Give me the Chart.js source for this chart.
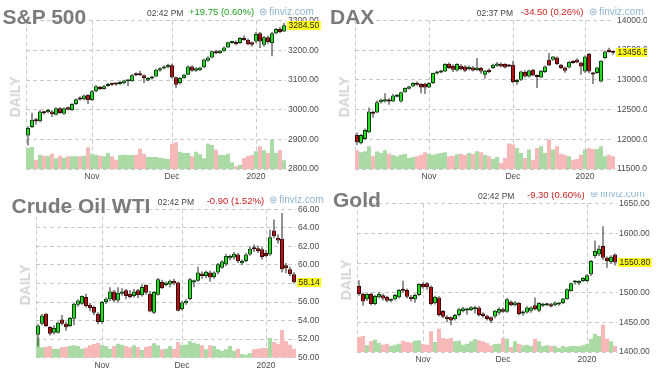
<!DOCTYPE html>
<html><head><meta charset="utf-8">
<script src="https://cdn.jsdelivr.net/npm/chart.js@4.4.1/dist/chart.umd.min.js"></script>
<style>
html,body{margin:0;padding:0;background:#fff;}
#root{position:relative;width:660px;height:384px;overflow:hidden;font-family:"Liberation Sans",Arial,sans-serif;}
.panel{position:absolute;width:330px;height:192px;overflow:hidden;}
.panel canvas{position:absolute;left:0;top:0;}
.t{position:absolute;white-space:nowrap;}
.title{font-weight:bold;font-size:21px;line-height:21px;color:#7b7b7b;}
.time{font-size:8.5px;line-height:8.5px;color:#444;}
.chg{font-size:9.5px;line-height:9.5px;}
.up{color:#22a022;}
.dn{color:#cc2222;}
.fv{font-size:10px;line-height:10px;color:#8db4d2;}
.daily{font-weight:bold;font-size:14px;line-height:14px;color:#d4d4d4;transform:translate(-50%,-50%) rotate(-90deg);}
</style></head><body><div id="root">
<div class="panel" id="p1" style="left:0;top:0;">
  <canvas id="c1" width="330" height="192"></canvas>
  <div class="t title" style="left:2.5px;top:5.5px;">S&amp;P 500</div>
  <div class="t time" style="left:147px;top:8.8px;">02:42 PM</div>
  <div class="t chg up" style="left:189px;top:7px;">+19.75 (0.60%)</div>
  <div class="t fv" style="left:259px;top:6.5px;">⊜</div>
  <div class="t fv" style="left:269.3px;top:6.5px;">finviz.com</div>
  <div class="t daily" style="left:15px;top:97px;">DAILY</div>
</div>
<div class="panel" id="p2" style="left:330px;top:0;">
  <canvas id="c2" width="317" height="192"></canvas>
  <div class="t title" style="left:0px;top:5.5px;">DAX</div>
  <div class="t time" style="left:146.7px;top:8.8px;">02:37 PM</div>
  <div class="t chg dn" style="left:190.7px;top:7px;">-34.50 (0.26%)</div>
  <div class="t fv" style="left:259px;top:6.5px;">⊜</div>
  <div class="t fv" style="left:269.3px;top:6.5px;">finviz.com</div>
  <div class="t daily" style="left:13.5px;top:97px;">DAILY</div>
</div>
<div class="panel" id="p3" style="left:0;top:192px;">
  <canvas id="c3" width="330" height="192"></canvas>
  <div class="t title" style="left:11.5px;top:2.9px;">Crude Oil WTI</div>
  <div class="t time" style="left:157.7px;top:6.1px;">02:42 PM</div>
  <div class="t chg dn" style="left:206.7px;top:3.5px;">-0.90 (1.52%)</div>
  <div class="t fv" style="left:269px;top:2.5px;">⊜</div>
  <div class="t fv" style="left:279.3px;top:2.5px;">finviz.com</div>
  <div class="t daily" style="left:25px;top:93.4px;">DAILY</div>
</div>
<div class="panel" id="p4" style="left:330px;top:192px;">
  <canvas id="c4" width="330" height="192"></canvas>
  <div class="t title" style="left:3px;top:-2.8px;">Gold</div>
  <div class="t time" style="left:148px;top:-0.5px;">02:42 PM</div>
  <div class="t chg dn" style="left:197px;top:-2.5px;">-9.30 (0.60%)</div>
  <div class="t fv" style="left:260px;top:-3.5px;">⊜</div>
  <div class="t fv" style="left:270.3px;top:-3.5px;">finviz.com</div>
  <div class="t daily" style="left:16px;top:88.3px;">DAILY</div>
</div>
</div>
<script>
// ---------- categories (trading days) ----------
const usDates = [
 "2019-10-10","2019-10-11","2019-10-14","2019-10-15","2019-10-16","2019-10-17","2019-10-18","2019-10-21","2019-10-22","2019-10-23","2019-10-24","2019-10-25","2019-10-28","2019-10-29","2019-10-30","2019-10-31",
 "2019-11-01","2019-11-04","2019-11-05","2019-11-06","2019-11-07","2019-11-08","2019-11-11","2019-11-12","2019-11-13","2019-11-14","2019-11-15","2019-11-18","2019-11-19","2019-11-20","2019-11-21","2019-11-22","2019-11-25","2019-11-26","2019-11-27","2019-11-29",
 "2019-12-02","2019-12-03","2019-12-04","2019-12-05","2019-12-06","2019-12-09","2019-12-10","2019-12-11","2019-12-12","2019-12-13","2019-12-16","2019-12-17","2019-12-18","2019-12-19","2019-12-20","2019-12-23","2019-12-24","2019-12-26","2019-12-27","2019-12-30","2019-12-31",
 "2020-01-02","2020-01-03","2020-01-06","2020-01-07","2020-01-08","2020-01-09","2020-01-10","2020-01-13"
];
const daxDates = [
 "2019-10-08","2019-10-09","2019-10-10","2019-10-11","2019-10-14","2019-10-15","2019-10-16","2019-10-17","2019-10-18","2019-10-21","2019-10-22","2019-10-23","2019-10-24","2019-10-25","2019-10-28","2019-10-29","2019-10-30","2019-10-31",
 "2019-11-01","2019-11-04","2019-11-05","2019-11-06","2019-11-07","2019-11-08","2019-11-11","2019-11-12","2019-11-13","2019-11-14","2019-11-15","2019-11-18","2019-11-19","2019-11-20","2019-11-21","2019-11-22","2019-11-25","2019-11-26","2019-11-27","2019-11-28","2019-11-29",
 "2019-12-02","2019-12-03","2019-12-04","2019-12-05","2019-12-06","2019-12-09","2019-12-10","2019-12-11","2019-12-12","2019-12-13","2019-12-16","2019-12-17","2019-12-18","2019-12-19","2019-12-20","2019-12-23","2019-12-27","2019-12-30",
 "2020-01-02","2020-01-03","2020-01-06","2020-01-07","2020-01-08","2020-01-09","2020-01-10","2020-01-13"
];
// ---------- x tick labels ----------
const monthKeys  = ["2019-11","2019-12","2020-01"];
const monthNames = ["Nov","Dec","2020"];

// ---------- S&P 500  [open, high, low, close] ----------
const spxOHLC = [
 [2913,2944,2879,2938],[2942,2990,2938,2966],[2966,2972,2950,2961],[2961,2999,2958,2994],[2992,2996,2984,2988],
 [2991,3002,2988,2999],[2994,2998,2975,2985],[2983,3008,2980,3005],[3005,3009,2986,2989],[2986,3007,2983,3005],
 [3008,3011,2998,3000],[2999,3022,2996,3019],[3019,3038,3016,3035],[3039,3045,3031,3034],[3035,3051,3032,3048],
 [3050,3053,3019,3032],[3033,3066,3030,3062],[3062,3082,3059,3079],[3075,3080,3066,3070],[3070,3084,3068,3079],
 [3080,3090,3077,3087],[3088,3091,3080,3084],[3089,3092,3081,3085],[3087,3096,3084,3093],[3089,3101,3086,3098],
 [3096,3100,3080,3099],[3096,3120,3094,3116],[3120,3125,3113,3116],[3120,3131,3114,3116],[3116,3119,3090,3107],
 [3098,3110,3096,3107],[3105,3114,3102,3111],[3112,3138,3110,3135],[3132,3143,3128,3140],[3139,3150,3136,3146],
 [3143,3155,3140,3151],[3150,3155,3105,3109],[3109,3112,3073,3084],[3090,3110,3085,3107],[3107,3121,3104,3118],
 [3118,3149,3116,3146],[3146,3150,3128,3131],[3131,3143,3127,3140],[3133,3145,3130,3142],[3143,3172,3140,3169],
 [3165,3179,3162,3176],[3176,3199,3173,3197],[3197,3201,3187,3190],[3190,3202,3188,3199],[3197,3213,3195,3210],
 [3210,3229,3208,3227],[3225,3232,3222,3230],[3228,3233,3217,3221],[3225,3245,3222,3242],[3242,3250,3232,3235],
 [3236,3240,3217,3221],[3227,3230,3212,3219],[3230,3262,3225,3255],[3258,3262,3208,3230],[3219,3248,3212,3244],
 [3244,3250,3222,3228],[3225,3262,3180,3258],[3258,3275,3254,3272],[3272,3279,3258,3262],[3264,3292,3262,3284.5]
];
const spxVolume = [63,66,28,43,40,40,46,32,40,34,38,38,38,38,40,65,46,43,40,38,48,38,28,42,43,41,42,43,61,46,36,36,36,34,32,30,76,80,52,48,48,38,52,44,32,76,72,58,42,42,46,20,8,13,33,40,42,53,68,56,48,88,48,56,26];
const spxTicks = [2800,3300,100];

// ---------- DAX ----------
const daxOHLC = [
 [12073,12110,11904,11949],[11933,12090,11915,12073],[12006,12180,11990,12157],[12118,12534,12100,12466],[12449,12480,12360,12427],
 [12449,12650,12440,12624],[12624,12680,12600,12663],[12635,12775,12620,12674],[12663,12690,12580,12635],[12635,12760,12625,12736],
 [12714,12760,12700,12747],[12635,12800,12620,12792],[12792,12870,12780,12860],[12848,12900,12835,12888],[12888,12960,12880,12944],
 [12944,12970,12900,12916],[12927,12940,12775,12871],[12933,12950,12760,12871],[12871,12960,12860,12944],[12944,13120,12930,13112],
 [13107,13150,13090,13140],[13124,13170,13110,13157],[13140,13280,13130,13264],[13270,13290,13180,13197],[13236,13260,13130,13169],
 [13157,13280,13140,13264],[13236,13260,13160,13180],[13225,13245,13130,13152],[13180,13240,13160,13219],[13208,13230,13140,13157],
 [13163,13365,13150,13208],[13197,13215,13100,13140],[13084,13170,13020,13152],[13169,13190,13110,13129],[13197,13270,13180,13253],
 [13236,13300,13220,13275],[13270,13290,13210,13225],[13264,13280,13190,13208],[13253,13265,13210,13225],[13253,13320,12940,12961],
 [12961,13010,12916,12989],[13000,13150,12980,13140],[13129,13160,13040,13056],[13056,13170,13040,13157],[13169,13180,13060,13073],
 [13073,13090,12860,13045],[13040,13165,13030,13152],[13129,13240,13115,13225],[13337,13450,13230,13242],[13337,13400,13320,13393],
 [13376,13390,13250,13264],[13253,13265,13180,13197],[13208,13220,13120,13152],[13208,13310,13195,13298],[13309,13330,13270,13281],
 [13337,13360,13280,13292],[13292,13300,13085,13225],[13140,13410,13120,13393],[13432,13450,13110,13140],[13112,13130,12930,13090],
 [13112,13220,13100,13208],[12972,13330,12960,13320],[13365,13490,13355,13477],[13505,13540,13455,13466],[13477,13490,13420,13456.5]
];
const daxVolume = [56,50,53,68,38,52,48,56,46,42,38,43,46,33,36,38,43,50,46,43,46,48,50,38,40,44,46,42,48,46,53,50,43,38,30,36,18,33,76,73,63,48,33,58,28,63,68,48,88,58,68,46,43,38,28,30,43,58,63,60,60,68,38,43,38];
const daxTicks = [11500,14000,500];

// ---------- Crude Oil WTI ----------
const oilOHLC = [
 [52.47,53.6,51.2,53.48],[53.66,54.7,53.5,54.56],[54.74,54.8,53.3,53.41],[53.30,53.4,52.4,52.58],[52.7,53.5,52.5,53.2],
 [52.7,53.9,52.6,53.77],[54.13,54.6,53.5,53.66],[53.66,53.9,52.9,53.27],[53.41,54.4,53.3,54.27],[54.2,55.9,53.5,55.82],
 [55.71,56.3,55.5,56.18],[55.82,56.7,55.7,56.65],[56.54,56.9,55.4,55.57],[55.71,55.9,55.0,55.35],[55.46,55.6,54.6,54.85],
 [54.74,54.9,53.6,53.84],[53.84,56.1,53.7,56.0],[56.0,56.5,55.8,56.36],[56.29,57.6,56.1,57.15],[57.15,57.3,56.0,56.18],
 [56.18,57.6,55.9,57.0],[56.9,57.5,56.7,57.15],[57.26,57.4,56.3,56.65],[56.9,57.3,56.4,56.54],[56.65,57.4,56.5,57.15],
 [57.26,57.4,56.4,56.72],[56.72,57.9,56.6,57.62],[57.87,57.9,56.8,57.0],[56.9,57.2,54.9,54.99],[54.85,57.2,54.7,57.08],
 [56.79,58.6,56.7,58.45],[58.16,58.4,57.4,57.51],[57.85,58.2,57.7,58.1],[57.9,58.4,57.6,58.3],[58.3,58.5,57.8,58.0],
 [58.1,58.2,55.0,55.07],[55.25,56.1,55.1,55.96],[55.86,56.3,55.7,56.14],[56.32,58.6,56.2,58.46],[58.1,58.4,57.6,58.36],
 [58.29,59.8,58.2,59.18],[59.07,59.3,58.5,58.82],[58.82,59.4,58.6,59.28],[59.18,59.4,58.2,58.64],[58.7,59.3,58.5,59.18],
 [59.18,60.2,59.0,60.07],[59.71,60.5,59.6,60.36],[60.07,61.2,59.9,60.96],[60.71,61.1,60.5,60.96],[60.79,61.4,60.6,61.21],
 [61.14,61.3,60.2,60.43],[60.18,60.6,60.0,60.43],[60.43,61.3,60.3,61.14],[61.14,62.0,61.0,61.75],[61.86,62.2,61.4,61.68],
 [61.79,62.1,61.3,61.5],[61.68,61.9,60.6,60.86],[61.3,61.6,60.8,60.96],[61.14,63.8,61.0,63.0],[63.71,64.9,62.9,63.1],
 [62.93,63.3,62.3,62.64],[62.82,65.6,59.2,59.54],[59.96,60.2,59.1,59.64],[59.54,59.8,58.8,59.0],[59.0,59.2,58.0,58.14]
];
const oilVolume = [60,31,33,35,27,27,31,33,35,37,35,27,30,37,41,44,37,35,27,35,42,39,35,31,37,31,23,32,35,43,37,25,27,35,27,47,37,39,49,45,42,37,25,37,35,25,21,25,35,21,27,11,9,13,25,27,29,29,59,47,42,83,49,39,27];
const oilTicks = [50,66,2];

// ---------- Gold ----------
const goldOHLC = [
 [1511.2,1521,1495,1497.8],[1497.8,1500,1478,1485],[1488.8,1499,1486,1497.8],[1497.8,1500,1479,1481],[1481,1496,1479,1494.4],
 [1492.3,1501,1490,1497.8],[1495.5,1498,1487,1490],[1493.3,1495,1484,1486.5],[1486.5,1490,1484,1488.8],[1488.8,1498,1487,1496],
 [1492.3,1506,1490,1504.5],[1506.7,1520,1500,1503.4],[1504.5,1507,1490,1493.3],[1493.3,1496,1485,1488.8],[1488.8,1498,1483,1496],
 [1496,1516,1494,1514.6],[1514.6,1517,1507,1509],[1515.7,1518,1505,1509],[1510,1512,1479,1481],[1482,1495,1480,1493.3],
 [1492,1494,1460,1462.4],[1469,1471,1457,1459.6],[1459.6,1462,1450,1455.7],[1458.5,1460,1445,1452.9],[1455,1464,1453,1462.4],
 [1462.4,1474,1460,1472],[1469,1476,1467,1473.6],[1470,1475,1463,1473],[1471,1477,1469,1475.3],[1472,1478,1465,1475.5],
 [1475,1477,1460,1462.4],[1465,1467,1458,1460.7],[1461.2,1463,1453,1455.6],[1458.4,1460,1449,1452.8],[1460,1471,1457,1469.5],
 [1466,1475,1463,1472.3],[1472,1475,1466,1468],[1467.9,1491,1466,1489],[1484.6,1487,1477,1479],[1479,1486,1477,1483.5],
 [1482.4,1484,1462,1464],[1465,1470,1461,1468.4],[1466.7,1477,1465,1475.1],[1469.5,1477,1466,1475.1],[1479,1492,1470,1472.3],
 [1469.5,1484,1467,1482.4],[1478,1483,1476,1480.7],[1479,1483,1477,1481.8],[1480.7,1483,1475,1476.8],[1479,1485,1477,1483.5],
 [1480.2,1484,1478,1482.4],[1482.4,1491,1481,1490.2],[1489,1507,1488,1505.9],[1503,1517,1502,1515.9],[1517,1521,1514,1519.8],
 [1515.9,1521,1513,1519.8],[1519.8,1526,1518,1524.9],[1519.8,1531,1518,1529.3],[1531,1555,1528,1553.3],[1561.7,1588,1558,1570.1],
 [1564.5,1580,1562,1574],[1578.5,1612,1555,1559],[1559,1561,1542,1553.3],[1551.7,1563,1549,1560.6],[1564.5,1566,1546,1550.8]
];
const goldVolume = [45,48,20,32,37,27,22,25,18,22,25,34,30,28,34,35,24,22,62,30,70,42,40,42,32,34,22,25,32,38,35,32,27,20,24,25,42,40,15,32,25,20,22,18,40,32,18,20,18,18,12,18,15,18,18,17,20,25,40,55,48,82,40,32,18];
const goldTicks = [1400,1650,50];

// ---------- styling ----------
const FONT = '"Liberation Sans", Arial, sans-serif';
const GRID = '#c9c9c9';
const UP_FILL = '#22dd22', UP_LINE = '#0b3d0b';
const DN_FILL = '#b31212', DN_LINE = '#3a0808';
const VOL_UP = '#aadba4', VOL_DN = '#f6b8b8';
const TAG = '#ffff1e';

function monthKey(labels, i) {
  if (i <= 0) return null;
  const k = labels[i].slice(0, 7);
  return k !== labels[i - 1].slice(0, 7) ? k : null;
}

const decoPlugin = {
  id: 'deco',
  beforeDatasetsDraw(chart) {
    const { ctx, chartArea: a } = chart;
    ctx.save();
    ctx.strokeStyle = GRID; ctx.lineWidth = 1; ctx.setLineDash([4, 3]);
    const x = Math.round(a.left) + 0.5;
    ctx.beginPath(); ctx.moveTo(x, a.top); ctx.lineTo(x, a.bottom); ctx.stroke();
    ctx.restore();
  },
  afterDraw(chart) {
    const { ctx, chartArea: a } = chart;
    const body = chart.data.datasets[2].data;
    const last = body[body.length - 1][1];
    const y = chart.scales.y.getPixelForValue(last);
    const txt = last.toFixed(2);
    ctx.save();
    ctx.font = '8.5px ' + FONT;
    const tw = ctx.measureText(txt).width;
    const x0 = a.right + 1;
    ctx.fillStyle = TAG;
    ctx.fillRect(x0, Math.round(y - 4.5), tw + 3, 9);
    ctx.fillStyle = '#222';
    ctx.textBaseline = 'middle';
    ctx.textAlign = 'left';
    ctx.fillText(txt, x0 + 1.5, y + 0.5);
    ctx.restore();
  }
};

function makePanel(id, labels, ohlc, vol, ticks, area) {
  const [min, max, step] = ticks;
  const isUp = ohlc.map(r => r[3] >= r[0]);
  new Chart(document.getElementById(id), {
    type: 'bar',
    data: {
      labels: labels,
      datasets: [
        { label: 'Volume', data: vol, yAxisID: 'yv', grouped: false, order: 3,
          backgroundColor: isUp.map(u => u ? VOL_UP : VOL_DN),
          barPercentage: 1, categoryPercentage: 1, inflateAmount: 0, borderWidth: 0 },
        { label: 'Range', data: ohlc.map(r => [r[2], r[1]]), yAxisID: 'y', grouped: false, order: 2,
          backgroundColor: '#262626', barThickness: 1, inflateAmount: 0, borderWidth: 0 },
        { label: 'Body', data: ohlc.map(r => [r[0], r[3]]), yAxisID: 'y', grouped: false, order: 1,
          backgroundColor: isUp.map(u => u ? UP_FILL : DN_FILL),
          borderColor: isUp.map(u => u ? UP_LINE : DN_LINE),
          borderWidth: 1, borderSkipped: false, barThickness: 4, minBarLength: 2, inflateAmount: 0 }
      ]
    },
    options: {
      responsive: false, animation: false, devicePixelRatio: 1,
      layout: { autoPadding: false, padding: { left: area.left, top: area.top, right: 0, bottom: 0 } },
      plugins: { legend: { display: false }, tooltip: { enabled: false } },
      scales: {
        x: {
          type: 'category', offset: true,
          grid: { offset: false, drawTicks: false, lineWidth: 1,
                  color: c => (monthKey(labels, c.index) ? GRID : 'rgba(0,0,0,0)') },
          border: { display: false, dash: [4, 3] },
          ticks: { autoSkip: false, maxRotation: 0, minRotation: 0, padding: 3, color: '#4a4a4a',
                   font: { size: 8.5, family: FONT },
                   callback: (v, i) => { const k = monthKey(labels, i); return k ? monthNames[monthKeys.indexOf(k)] : ''; } },
          afterFit: s => { s.height = area.xh; }
        },
        y: {
          position: 'right', min: min, max: max,
          grid: { drawTicks: false, color: GRID, lineWidth: 1 },
          border: { display: false, dash: [4, 3] },
          ticks: { stepSize: step, padding: 2, color: '#4a4a4a', font: { size: 8.5, family: FONT },
                   callback: v => Number(v).toFixed(2) },
          afterFit: s => { s.width = area.yw; }
        },
        yv: { display: false, min: 0, max: 445 }
      }
    },
    plugins: [decoPlugin]
  });
}

makePanel('c1', usDates, spxOHLC, spxVolume, spxTicks, { left: 26, top: 20.7, yw: 44, xh: 23 });
makePanel('c2', daxDates, daxOHLC, daxVolume, daxTicks, { left: 25, top: 20.3, yw: 32, xh: 23 });
makePanel('c3', usDates, oilOHLC, oilVolume, oilTicks, { left: 36, top: 17.3, yw: 34, xh: 26.3 });
makePanel('c4', usDates, goldOHLC, goldVolume, goldTicks, { left: 27, top: 11.7, yw: 43, xh: 32 });
</script>
</body></html>
